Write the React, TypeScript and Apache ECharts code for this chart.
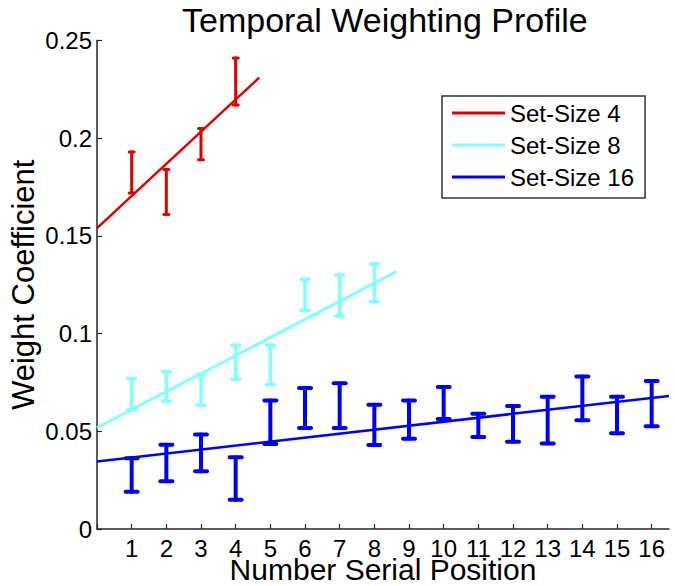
import React, { useEffect, useRef } from "react";
import * as echarts from "echarts";

const FONT = '"Liberation Sans", Arial, sans-serif';

const titleText = "Temporal Weighting Profile";
const xAxisName = "Number Serial Position";
const yAxisName = "Weight Coefficient";
const seriesNames = ["Set-Size 4", "Set-Size 8", "Set-Size 16"];
const colors = ["#e00000", "#80ffff", "#0000ff"];

const xTicks = [1, 2, 3, 4, 5, 6, 7, 8, 9, 10, 11, 12, 13, 14, 15, 16];
const yTicks = [0, 0.05, 0.1, 0.15, 0.2, 0.25];

// Set-Size 4
const pos4 = [1, 2, 3, 4];
const low4 = [0.172, 0.161, 0.189, 0.217];
const high4 = [0.193, 0.184, 0.205, 0.241];
const fit4 = [[0, 0.154], [4.68, 0.231]];

// Set-Size 8
const pos8 = [1, 2, 3, 4, 5, 6, 7, 8];
const low8 = [0.061, 0.0655, 0.0635, 0.0766, 0.074, 0.112, 0.109, 0.1163];
const high8 = [0.077, 0.0805, 0.0788, 0.0942, 0.0942, 0.1278, 0.13, 0.1356];
const fit8 = [[0, 0.0518], [8.64, 0.1317]];

// Set-Size 16
const pos16 = [1, 2, 3, 4, 5, 6, 7, 8, 9, 10, 11, 12, 13, 14, 15, 16];
const low16 = [0.0191, 0.0244, 0.0295, 0.015, 0.0435, 0.0517, 0.0517, 0.043, 0.0462, 0.0563, 0.0471, 0.0447, 0.0437, 0.0556, 0.049, 0.0526];
const high16 = [0.0362, 0.0431, 0.0483, 0.0367, 0.0657, 0.0722, 0.0746, 0.0636, 0.0657, 0.0727, 0.059, 0.0629, 0.0677, 0.0781, 0.0677, 0.0757];
const fit16 = [[0, 0.0346], [16.5, 0.0681]];

function errorSeries(name: string, pos: number[], low: number[], high: number[], color: string, lw: number, capHalf: number) {
  return {
    type: "custom",
    name: name + " err",
    data: pos.map((p, i) => [p, low[i], high[i]]),
    encode: { x: 0, y: [1, 2] },
    z: 3,
    renderItem: (params: any, api: any) => {
      const x = api.value(0);
      const lo = api.coord([x, api.value(1)]);
      const hi = api.coord([x, api.value(2)]);
      const style = { stroke: color, lineWidth: lw, lineCap: "round" };
      return {
        type: "group",
        children: [
          { type: "line", shape: { x1: lo[0], y1: lo[1], x2: hi[0], y2: hi[1] }, style },
          { type: "line", shape: { x1: lo[0] - capHalf, y1: lo[1], x2: lo[0] + capHalf, y2: lo[1] }, style },
          { type: "line", shape: { x1: hi[0] - capHalf, y1: hi[1], x2: hi[0] + capHalf, y2: hi[1] }, style },
        ],
      };
    },
  };
}

function fitSeries(name: string, data: number[][], color: string, lw: number) {
  return {
    type: "line",
    name,
    data,
    showSymbol: false,
    symbol: "none",
    z: 2,
    lineStyle: { color, width: lw },
    itemStyle: { color },
  };
}

export default function App() {
  const ref = useRef<HTMLDivElement>(null);
  useEffect(() => {
    if (!ref.current) return;
    const chart = echarts.init(ref.current, undefined, { renderer: "svg" });
    chart.setOption({
      animation: false,
      backgroundColor: "#ffffff",
      textStyle: { fontFamily: FONT },
      title: {
        text: titleText,
        left: 182,
        top: 3,
        padding: 0,
        textStyle: { fontFamily: FONT, fontSize: 34, lineHeight: 33, fontWeight: "normal", color: "#000" },
      },
      grid: { left: 97, right: 6, top: 40.5, bottom: 57, containLabel: false, outerBoundsMode: "none" },
      legend: {
        data: seriesNames,
        orient: "vertical",
        left: 442,
        top: 96,
        icon: "rect",
        itemWidth: 53,
        itemHeight: 3,
        itemGap: 8,
        padding: [5, 11, 9, 10],
        borderColor: "#333",
        borderWidth: 1.5,
        backgroundColor: "#fff",
        textStyle: { fontFamily: FONT, fontSize: 24, color: "#000", lineHeight: 24, padding: [0, 0, 0, 0] },
      },
      xAxis: {
        type: "value",
        min: 0,
        max: 16.5,
        interval: 1,
        name: xAxisName,
        nameLocation: "middle",
        nameGap: 29,
        nameMoveOverlap: false,
        nameTextStyle: { fontFamily: FONT, fontSize: 30, lineHeight: 22, color: "#000" },
        axisLine: { show: true, lineStyle: { color: "#262626", width: 1.5 } },
        axisTick: { show: true, inside: true, length: 5, lineStyle: { color: "#262626", width: 1.2 } },
        axisLabel: {
          fontFamily: FONT,
          fontSize: 24,
          lineHeight: 18,
          color: "#000",
          margin: 10,
          showMaxLabel: false,
          formatter: (v: number) => (xTicks.indexOf(v) >= 0 ? String(v) : ""),
        },
        splitLine: { show: false },
      },
      yAxis: {
        type: "value",
        min: 0,
        max: 0.25,
        interval: 0.05,
        name: yAxisName,
        nameLocation: "middle",
        nameGap: 58,
        nameMoveOverlap: false,
        nameTextStyle: { fontFamily: FONT, fontSize: 31, color: "#000" },
        axisLine: { show: true, lineStyle: { color: "#262626", width: 1.5 } },
        axisTick: { show: true, inside: true, length: 5, lineStyle: { color: "#262626", width: 1.2 } },
        axisLabel: {
          fontFamily: FONT,
          fontSize: 24,
          color: "#000",
          margin: 5,
          formatter: (v: number) => {
            const r = Math.round(v * 100) / 100;
            const t = yTicks.find((y) => Math.abs(y - r) < 1e-9);
            return t === undefined ? "" : String(t);
          },
        },
        splitLine: { show: false },
      },
      series: [
        fitSeries(seriesNames[0], fit4, colors[0], 2.5),
        fitSeries(seriesNames[1], fit8, colors[1], 3),
        fitSeries(seriesNames[2], fit16, colors[2], 2.5),
        errorSeries(seriesNames[0], pos4, low4, high4, colors[0], 3, 2.5),
        errorSeries(seriesNames[1], pos8, low8, high8, colors[1], 3.5, 4),
        errorSeries(seriesNames[2], pos16, low16, high16, colors[2], 4, 6),
      ],
    });
    return () => chart.dispose();
  }, []);
  return <div ref={ref} style={{ position: "absolute", left: 0, top: 0, width: 675, height: 586 }} />;
}
